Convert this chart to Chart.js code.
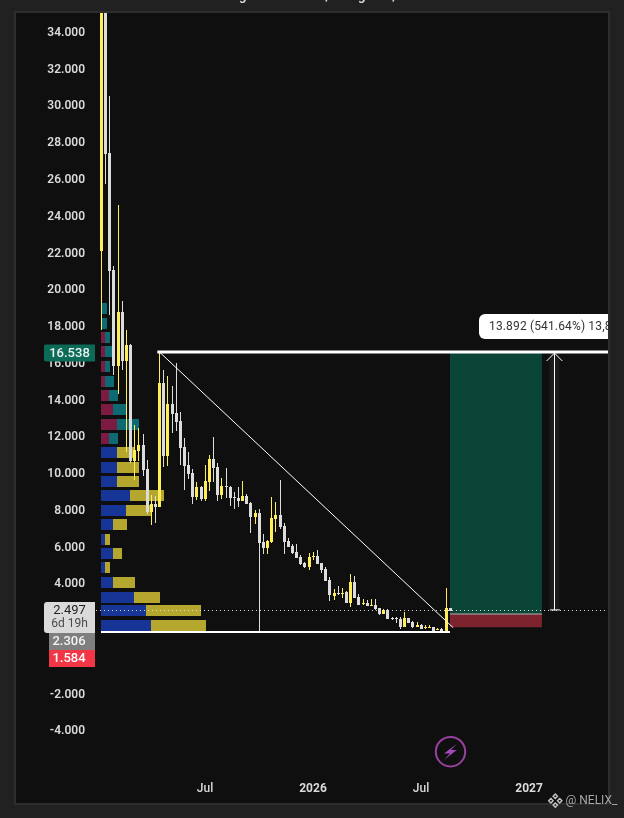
<!DOCTYPE html>
<html><head><meta charset="utf-8">
<style>html,body{margin:0;padding:0;background:#212121}canvas{display:block}</style>
<script src="https://cdn.jsdelivr.net/npm/chart.js@4/dist/chart.umd.js"></script>
</head><body><canvas id="c" width="624" height="818"></canvas>
<script>
// weekly candles, index 0..84
const opens  = [22.07,36,27.37,21.0,15.8,18.74,16.09,16.94,10.65,11.2,11.5,10.2,7.88,8.29,8.14,14.89,10.9,13.73,13.24,12.8,11.39,10.41,9.97,8.67,9.21,8.56,9.48,10.74,10.3,8.78,9.27,9.21,8.67,8.61,8.45,8.72,8.34,7.58,7.8,6.22,5.89,6.22,7.47,7.69,7.09,6.27,6.0,5.68,5.4,5.08,4.86,5.40,5.46,5.06,4.75,4.16,3.29,3.45,3.39,3.5,2.9,4.05,3.23,2.85,2.9,2.74,2.79,2.63,2.3,2.52,2.09,2.09,2.03,1.6,2.09,1.87,1.6,1.71,1.54,1.54,1.6,1.43,1.49,1.38,2.63];
const highs  = [38,38,30.48,21.24,24.56,19.33,17.76,17.0,12.6,12.45,12.08,10.7,8.78,8.75,16.52,15.58,15.25,14.71,15.94,13.29,11.88,11.12,10.17,9.48,9.27,10.41,10.95,11.93,10.52,9.7,10.25,9.27,8.94,9.21,9.54,8.83,8.4,7.96,8.02,6.66,6.33,8.67,8.4,9.59,7.25,6.44,6.11,6.11,5.51,5.13,5.62,5.68,5.78,5.06,4.86,4.32,3.67,3.83,3.72,3.56,4.48,4.37,3.39,3.12,3.07,3.12,3.12,2.63,2.58,2.56,2.14,2.14,2.14,2.41,2.09,1.92,1.87,1.75,1.71,1.71,1.6,1.54,1.53,3.72,2.63];
const lows   = [17.76,25.7,18.57,15.3,14.28,15.6,11.1,10.5,9.6,10.65,9.83,7.75,7.15,7.24,8.14,10.32,10.35,12.17,12.28,10.41,9.05,9.65,8.31,8.5,8.45,8.45,8.99,9.48,8.45,8.56,8.61,8.18,8.02,8.12,8.45,8.29,6.71,7.2,1.33,5.57,5.57,6.17,6.76,6.93,5.57,5.95,5.57,5.35,4.97,4.81,4.7,5.24,5.02,4.54,4.1,3.01,3.07,3.34,3.18,2.9,2.69,3.18,2.79,2.79,2.74,2.74,2.52,2.25,2.3,2.03,1.98,1.81,1.49,1.6,1.81,1.54,1.6,1.49,1.49,1.54,1.38,1.43,1.38,1.38,2.497];
const closes = [36,27.33,20.98,15.8,18.74,16.09,16.94,10.65,11.23,11.5,10.14,7.88,8.29,8.15,14.89,10.9,13.73,13.18,12.75,11.35,10.35,9.92,8.67,9.21,8.56,9.54,10.74,10.25,8.78,9.27,9.21,8.61,8.61,8.45,8.72,8.29,7.58,7.8,6.17,5.89,6.27,7.53,7.69,7.04,6.22,5.95,5.62,5.35,5.02,4.86,5.39,5.46,5.02,4.7,4.1,3.34,3.45,3.39,3.45,2.9,4.05,3.18,2.79,2.9,2.74,2.79,2.58,2.3,2.52,2.03,2.03,2.03,1.6,2.09,1.81,1.6,1.71,1.49,1.6,1.6,1.38,1.49,1.38,2.63,2.497];

// volume profile rows
const profilePrices = [1.70,2.50,3.25,4.05,4.85,5.63,6.39,7.19,7.97,8.76,9.54,10.31,11.10,11.88,12.66,13.46,14.22,15.00,15.80,16.60,17.36,18.14,18.93];
const profileFirst  = [50,45,33,12,4,12,4,12,25,29,16,16,16,8,16,12,8,4,4,4,4,1,1];
const profileSecond = [55,55,26,22,5,9,5,14,26,34,22,22,17,9,22,13,9,9,5,7,5,5,5];
const profileSplitPrice = 11.5;

// axes
const yTickValues = [34,32,30,28,26,24,22,20,18,16,14,12,10,8,6,4,2,0,-2,-4];
const xTickWeeks  = [24.93,50.94,76.95,102.97];
const xTickLabels = ['Jul','2026','Jul','2027'];
const yLabelNudge = 0.08; // label baseline correction, in price units

// drawn tools (x in weeks, y in price)
const priceLast = 2.497, priceTop = 16.538, priceEntry = 2.306, priceStop = 1.584;
const toolStart = 83.93, toolEnd = 106.08;
const resistanceLine = [[13.44,16.56],[122,16.56]];
const supportLine    = [[-0.12,1.33],[83.93,1.33]];
const diagonalLine   = [[14.1,16.53],[84.7,1.56]];
const lastPriceLine  = [[-1.33,2.497],[122,2.497]];
const measureLine    = [[109.1,2.497],[109.1,16.5]];
const measureHead    = [[107.2,16.07],[109.1,16.5],[111.0,16.07]];
const measureCap     = [[108.0,2.53],[110.4,2.53]];
const measureLabel   = '13.892 (541.64%) 13,892';

const YELLOW = '#ffee58', WHITE = '#dcdcdc';
const idx = opens.map((_, i) => i);
const candleColors = idx.map(i => closes[i] >= opens[i] ? YELLOW : WHITE);
const pts = a => a.map(p => ({x: p[0], y: p[1]}));
const lineDs = (data, color, width, order, extra) => Object.assign({
  type: 'line', data: pts(data), borderColor: color, borderWidth: width, pointRadius: 0,
  tension: 0, order, fill: false, borderCapStyle: 'butt', borderJoinStyle: 'miter'
}, extra || {});
const fillDs = (yVal, target, color, order) => ({
  type: 'line', data: [{x: toolStart, y: yVal}, {x: toolEnd, y: yVal}], borderWidth: 0,
  borderColor: 'transparent', pointRadius: 0, backgroundColor: color, fill: {value: target}, order
});
const barBase = {type: 'bar', grouped: false, barPercentage: 1, categoryPercentage: 1, borderWidth: 0, inflateAmount: 0};
const hiRow = profilePrices.map(p => p > profileSplitPrice);

const datasets = [
  Object.assign({}, barBase, {
    indexAxis: 'y', xAxisID: 'xVol', yAxisID: 'yVol', maxBarThickness: 11, order: 60,
    data: profilePrices.map((p, i) => ({y: p, x: [0, profileFirst[i]]})),
    backgroundColor: hiRow.map(h => h ? '#7c1b41' : '#163596')
  }),
  Object.assign({}, barBase, {
    indexAxis: 'y', xAxisID: 'xVol', yAxisID: 'yVol', maxBarThickness: 11, order: 59,
    data: profilePrices.map((p, i) => ({y: p, x: [profileFirst[i], profileFirst[i] + profileSecond[i]]})),
    backgroundColor: hiRow.map(h => h ? '#0e6a72' : '#b5a62d')
  }),
  fillDs(priceTop, priceEntry, '#0b4538', 50),
  fillDs(priceEntry, priceStop, '#7c232e', 49),
  lineDs([[toolStart, priceEntry], [toolEnd, priceEntry]], '#8b8b8b', 1.5, 48),
  lineDs(measureLine, 'rgba(255,255,255,0.05)', 10, 47),
  Object.assign({}, barBase, {
    maxBarThickness: 1, order: 30,
    data: idx.map(i => ({x: i, y: [lows[i], highs[i]]})), backgroundColor: candleColors
  }),
  Object.assign({}, barBase, {
    maxBarThickness: 3, order: 29,
    data: idx.map(i => ({x: i, y: [opens[i], closes[i]]})), backgroundColor: candleColors
  }),
  lineDs(lastPriceLine, '#e0e0e0', 1, 15, {borderDash: [1, 3]}),
  lineDs(diagonalLine, '#ffffff', 1, 14),
  lineDs(supportLine, '#ffffff', 2, 13),
  lineDs(resistanceLine, '#ffffff', 3, 12),
  lineDs(measureLine, '#ffffff', 1, 11),
  lineDs(measureHead, '#ffffff', 1, 10),
  lineDs(measureCap, '#ffffff', 1, 9)
];

const snapPlugin = {
  id: 'snap',
  afterDatasetsUpdate(chart) {
    chart.getSortedVisibleDatasetMetas().forEach(meta => {
      if (meta.type !== 'bar') return;
      meta.data.forEach(el => {
        if (el.horizontal) {
          el.y = Math.round(el.y) + 0.5;
          el.x = Math.round(el.x); el.base = Math.round(el.base);
        } else {
          el.x = Math.round(el.x - 0.5) + 0.5;
          el.y = Math.round(el.y); el.base = Math.round(el.base);
          if (el.y === el.base) el.base = el.y + 1;
        }
      });
    });
  }
};

function box(ctx, x, y, w, h, r, color) {
  ctx.fillStyle = color; ctx.beginPath(); ctx.roundRect(x, y, w, h, r); ctx.fill();
}
function text(ctx, s, x, y, font, color, align) {
  ctx.font = font; ctx.fillStyle = color; ctx.textAlign = align || 'center';
  ctx.textBaseline = 'middle'; ctx.fillText(s, x, y);
}
const framePlugin = {
  id: 'frame',
  beforeDraw(chart) {
    const ctx = chart.ctx;
    ctx.save();
    ctx.fillStyle = '#212121'; ctx.fillRect(0, 0, 624, 818);
    ctx.fillStyle = '#2e2e2e'; ctx.fillRect(14, 11, 596, 794);
    ctx.fillStyle = '#0f0f0f'; ctx.fillRect(16, 13, 592, 790);
    ctx.restore();
  },
  afterDraw(chart) {
    const ctx = chart.ctx, y = chart.scales.y;
    ctx.save();
    // cut-off title fragments
    ctx.textBaseline = 'alphabetic'; ctx.textAlign = 'left';
    ctx.font = '700 13px Roboto'; ctx.fillStyle = '#d8d8d8';
    [['g', 239], [',', 325], ['g', 358], [',', 392]].forEach(t => ctx.fillText(t[0], t[1], 0));
    // price badges
    const yTop = y.getPixelForValue(priceTop);
    box(ctx, 44, yTop - 8, 51, 17, [2, 0, 0, 2], '#0b6b57');
    text(ctx, priceTop.toFixed(3), 69.5, yTop + 1, '500 13px Roboto', '#e8f2ef');
    box(ctx, 44, 602, 51, 31, [3, 0, 0, 3], '#dadada');
    text(ctx, priceLast.toFixed(3), 69.5, 611, '400 13px Roboto', '#222222');
    text(ctx, '6d 19h', 69.5, 624, '400 12px Roboto', '#4a4a4a');
    box(ctx, 49, 633, 46, 17, 0, '#7f7f7f');
    text(ctx, priceEntry.toFixed(3), 69, 642, '500 13px Roboto', '#f4f4f4');
    box(ctx, 49, 650, 46, 17, 0, '#f23645');
    text(ctx, priceStop.toFixed(3), 69, 659, '500 13px Roboto', '#ffffff');
    // measure label, clipped by the pane edge
    ctx.save();
    ctx.beginPath(); ctx.rect(16, 13, 592, 790); ctx.clip();
    box(ctx, 479, 314, 145, 25, 6, '#ffffff');
    ctx.letterSpacing = '0.15px';
    text(ctx, measureLabel, 489, 326.5, '400 12px Roboto', '#333333', 'left');
    ctx.restore();
    // lightning badge
    ctx.strokeStyle = '#98409f'; ctx.lineWidth = 2;
    ctx.beginPath(); ctx.arc(450.5, 751.7, 14.7, 0, Math.PI * 2); ctx.stroke();
    ctx.fillStyle = '#a54bbd'; ctx.beginPath();
    [[6.2,-7.7],[-6.5,1.7],[-0.5,1.7],[-6.5,8.3],[6.2,-1.7],[0.5,-1.7]].forEach((p, i) => {
      i ? ctx.lineTo(450.5 + p[0], 751.7 + p[1]) : ctx.moveTo(450.5 + p[0], 751.7 + p[1]);
    });
    ctx.closePath(); ctx.fill();
    // watermark
    ctx.strokeStyle = '#c4c4c4'; ctx.lineWidth = 1.4;
    [[0,-4.4],[-4.4,0],[4.4,0],[0,4.4]].forEach(p => {
      ctx.beginPath();
      ctx.moveTo(555.3 + p[0], 800.7 + p[1] - 2.2); ctx.lineTo(555.3 + p[0] + 2.2, 800.7 + p[1]);
      ctx.lineTo(555.3 + p[0], 800.7 + p[1] + 2.2); ctx.lineTo(555.3 + p[0] - 2.2, 800.7 + p[1]);
      ctx.closePath(); ctx.stroke();
    });
    text(ctx, '@ NELIX_', 565.5, 801, '400 12px Roboto', '#a8a8a8', 'left');
    ctx.restore();
  }
};

const yMin = -6.344, yMax = 35.005, xMin = -1.325, xMax = 121.99;
new Chart(document.getElementById('c'), {
  data: {datasets},
  plugins: [snapPlugin, framePlugin],
  options: {
    responsive: false, animation: false, devicePixelRatio: 1,
    layout: {padding: {left: 0, right: 16, top: 13, bottom: 15}},
    plugins: {legend: {display: false}, tooltip: {enabled: false}, title: {display: false}},
    scales: {
      x: {
        type: 'linear', axis: 'x', min: xMin, max: xMax, offset: false, position: 'bottom',
        grid: {display: false, drawTicks: false}, border: {display: false},
        afterBuildTicks: s => { s.ticks = xTickWeeks.map(v => ({value: v})); },
        afterFit: s => { s.height = 30; s.paddingLeft = 0; s.paddingRight = 0; s.paddingTop = 0; s.paddingBottom = 0; },
        ticks: {
          autoSkip: false, maxRotation: 0, padding: 9, color: '#dadada',
          font: c => ({family: 'Roboto', size: 12, weight: c.index % 2 ? 700 : 500}),
          callback: (v, i) => xTickLabels[i]
        }
      },
      y: {
        type: 'linear', axis: 'y', min: yMin, max: yMax, offset: false, position: 'left',
        grid: {display: false, drawTicks: false}, border: {display: false},
        afterBuildTicks: s => { s.ticks = yTickValues.map(v => ({value: v - yLabelNudge})); },
        afterFit: s => { s.width = 96; s.paddingTop = 0; s.paddingBottom = 0; s.paddingLeft = 0; s.paddingRight = 0; },
        ticks: {
          autoSkip: false, padding: 11, color: '#dadada',
          font: {family: 'Roboto', size: 12, weight: 600},
          callback: (v, i) => yTickValues[i].toFixed(3)
        }
      },
      xVol: {type: 'linear', axis: 'x', display: false, offset: false, min: -5, max: 507, grid: {display: false}},
      yVol: {type: 'linear', axis: 'y', display: false, offset: false, min: yMin, max: yMax, grid: {display: false}}
    }
  }
});
</script></body></html>
